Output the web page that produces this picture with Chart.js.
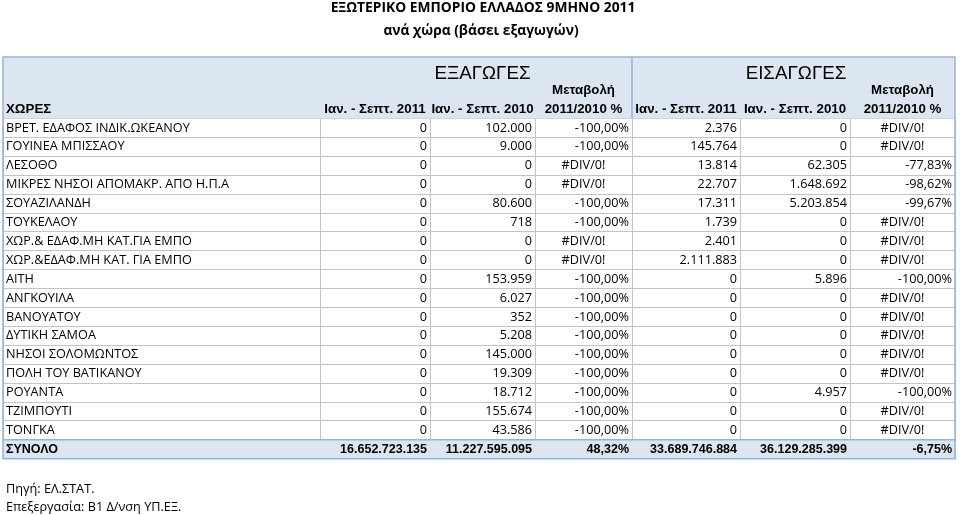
<!DOCTYPE html>
<html>
<head>
<meta charset="utf-8">
<script src="https://cdn.jsdelivr.net/npm/chart.js@4.4.1/dist/chart.umd.min.js"></script>
<style>
  html, body { margin: 0; padding: 0; background: #fff; }
</style>
</head>
<body>
<canvas id="tradeTable" width="960" height="515"></canvas>
<script>
// Table data
const countries = [
    'ΒΡΕΤ. ΕΔΑΦΟΣ ΙΝΔΙΚ.ΩΚΕΑΝΟΥ', 'ΓΟΥΙΝΕΑ ΜΠΙΣΣΑΟΥ', 'ΛΕΣΟΘΟ', 'ΜΙΚΡΕΣ ΝΗΣΟΙ ΑΠΟΜΑΚΡ. ΑΠΟ Η.Π.Α',
    'ΣΟΥΑΖΙΛΑΝΔΗ', 'ΤΟΥΚΕΛΑΟΥ', 'ΧΩΡ.& ΕΔΑΦ.ΜΗ ΚΑΤ.ΓΙΑ ΕΜΠΟ', 'ΧΩΡ.&ΕΔΑΦ.ΜΗ ΚΑΤ. ΓΙΑ ΕΜΠΟ',
    'ΑΙΤΗ', 'ΑΝΓΚΟΥΙΛΑ', 'ΒΑΝΟΥΑΤΟΥ', 'ΔΥΤΙΚΗ ΣΑΜΟΑ', 'ΝΗΣΟΙ ΣΟΛΟΜΩΝΤΟΣ',
    'ΠΟΛΗ ΤΟΥ ΒΑΤΙΚΑΝΟΥ', 'ΡΟΥΑΝΤΑ', 'ΤΖΙΜΠΟΥΤΙ', 'ΤΟΝΓΚΑ'
];
const exports2011 = [0, 0, 0, 0, 0, 0, 0, 0, 0, 0, 0, 0, 0, 0, 0, 0, 0];
const exports2010 = [102000, 9000, 0, 0, 80600, 718, 0, 0, 153959, 6027, 352, 5208, 145000, 19309, 18712, 155674, 43586];
const exportsChange = [-100, -100, null, null, -100, -100, null, null, -100, -100, -100, -100, -100, -100, -100, -100, -100];
const imports2011 = [2376, 145764, 13814, 22707, 17311, 1739, 2401, 2111883, 0, 0, 0, 0, 0, 0, 0, 0, 0];
const imports2010 = [0, 0, 62305, 1648692, 5203854, 0, 0, 0, 5896, 0, 0, 0, 0, 0, 4957, 0, 0];
const importsChange = [null, null, -77.83, -98.62, -99.67, null, null, null, -100, null, null, null, null, null, -100, null, null];

const totalLabel = 'ΣΥΝΟΛΟ';
const totals = [16652723135, 11227595095, 48.32, 33689746884, 36129285399, -6.75];

const titleLines = ['ΕΞΩΤΕΡΙΚΟ ΕΜΠΟΡΙΟ ΕΛΛΑΔΟΣ 9ΜΗΝΟ 2011', 'ανά χώρα (βάσει εξαγωγών)'];
const groupHeaders = ['ΕΞΑΓΩΓΕΣ', 'ΕΙΣΑΓΩΓΕΣ'];
const columnHeaders = ['ΧΩΡΕΣ', 'Ιαν. - Σεπτ. 2011', 'Ιαν. - Σεπτ. 2010', '2011/2010 %', 'Ιαν. - Σεπτ. 2011', 'Ιαν. - Σεπτ. 2010', '2011/2010 %'];
const sourceLines = ['Πηγή: ΕΛ.ΣΤΑΤ.', 'Επεξεργασία: Β1 Δ/νση ΥΠ.ΕΞ.'];

// column widths in table units (x scale is linear over their sum)
const colWidths = [317, 110, 105, 97, 108, 110, 105];
const colEdges = colWidths.reduce((acc, w) => { acc.push(acc[acc.length - 1] + w); return acc; }, [0]);

const rowLabels = countries.concat([totalLabel]);

const bodyFont = '12.7px "Open Sans"';
const headFont = 'bold 13.3px "Liberation Sans"';
const totalFont = 'bold 12.5px "Liberation Sans"';
const blue = '#95b3d7';
const headFill = '#dce6f1';

// Greek number formatting: 1.234.567 and -100,00%
function fmtNum(v) {
    return String(Math.round(v)).replace(/\B(?=(\d{3})+(?!\d))/g, '.');
}
function fmtPct(v) {
    return v.toFixed(2).replace('.', ',') + '%';
}

const tablePlugin = {
    id: 'tableText',
    afterDraw(chart) {
        const { ctx, chartArea, scales: { x, y } } = chart;
        const edge = k => x.getPixelForValue(colEdges[k]);
        const rowH = y.getPixelForValue(1) - y.getPixelForValue(0);
        const headTop = chartArea.top - 61.5;
        const pad = 3;

        ctx.save();

        // header block
        ctx.fillStyle = headFill;
        ctx.fillRect(edge(0), headTop, edge(7) - edge(0), chartArea.top - headTop);

        ctx.fillStyle = '#000';
        ctx.textBaseline = 'middle';
        const hLine = chartArea.top - 9.5;
        ctx.font = headFont;
        ctx.textAlign = 'left';
        ctx.fillText(columnHeaders[0], edge(0) + pad, hLine);
        ctx.textAlign = 'center';
        for (let c = 1; c < 7; c++) {
            ctx.fillText(columnHeaders[c], (edge(c) + edge(c + 1)) / 2, hLine);
        }
        ctx.fillText('Μεταβολή', (edge(3) + edge(4)) / 2, hLine - 18.5);
        ctx.fillText('Μεταβολή', (edge(6) + edge(7)) / 2, hLine - 18.5);
        ctx.font = '18.8px "Liberation Sans"';
        ctx.fillText(groupHeaders[0], (edge(2) + edge(3)) / 2, hLine - 35.5);
        ctx.fillText(groupHeaders[1], (edge(5) + edge(6)) / 2 + 1, hLine - 35.5);

        // header divider between exports and imports
        ctx.strokeStyle = blue;
        ctx.lineWidth = 1.5;
        ctx.beginPath();
        ctx.moveTo(edge(4), headTop);
        ctx.lineTo(edge(4), chartArea.top);
        ctx.stroke();

        // body rows
        ctx.font = bodyFont;
        countries.forEach((name, i) => {
            const cy = y.getPixelForValue(i);
            const cells = [exports2011[i], exports2010[i], exportsChange[i], imports2011[i], imports2010[i], importsChange[i]];
            ctx.textAlign = 'left';
            ctx.fillText(name, edge(0) + pad, cy);
            cells.forEach((v, k) => {
                const c = k + 1;
                const isPct = (k === 2 || k === 5);
                if (v === null) {
                    ctx.textAlign = 'center';
                    ctx.fillText('#DIV/0!', (edge(c) + edge(c + 1)) / 2, cy);
                } else {
                    ctx.textAlign = 'right';
                    ctx.fillText(isPct ? fmtPct(v) : fmtNum(v), edge(c + 1) - pad, cy);
                }
            });
        });

        // total row
        const ti = countries.length;
        const ty = y.getPixelForValue(ti);
        ctx.fillStyle = headFill;
        ctx.fillRect(edge(0), ty - rowH / 2, edge(7) - edge(0), rowH);
        ctx.strokeStyle = blue;
        ctx.beginPath();
        ctx.moveTo(edge(0), ty - rowH / 2);
        ctx.lineTo(edge(7), ty - rowH / 2);
        ctx.stroke();
        ctx.fillStyle = '#000';
        ctx.font = totalFont;
        ctx.textAlign = 'left';
        ctx.fillText(totalLabel, edge(0) + pad, ty);
        ctx.textAlign = 'right';
        totals.forEach((v, k) => {
            const isPct = (k === 2 || k === 5);
            ctx.fillText(isPct ? fmtPct(v) : fmtNum(v), edge(k + 2) - pad, ty);
        });

        // outer border
        ctx.strokeStyle = blue;
        ctx.lineWidth = 1.5;
        ctx.strokeRect(edge(0), headTop, edge(7) - edge(0), chartArea.bottom - headTop);

        // title
        ctx.font = 'bold 13.8px "Open Sans"';
        ctx.textAlign = 'center';
        ctx.fillText(titleLines[0], 483, 8);
        ctx.fillText(titleLines[1], 481, 31);

        // source notes
        ctx.font = bodyFont;
        ctx.textAlign = 'left';
        ctx.fillText(sourceLines[0], 6, 489);
        ctx.fillText(sourceLines[1], 6, 507);

        ctx.restore();
    }
};

const canvas = document.getElementById('tradeTable');
new Chart(canvas.getContext('2d'), {
    type: 'bar',
    data: {
        labels: rowLabels,
        datasets: [{ data: [] }]
    },
    options: {
        indexAxis: 'y',
        responsive: false,
        animation: false,
        devicePixelRatio: 1,
        layout: { padding: { top: 118.5, bottom: 56.3, left: 3, right: 5 } },
        plugins: {
            legend: { display: false },
            tooltip: { enabled: false }
        },
        scales: {
            x: {
                type: 'linear',
                min: 0,
                max: colEdges[colEdges.length - 1],
                afterBuildTicks: axis => { axis.ticks = colEdges.map(v => ({ value: v })); },
                ticks: { display: false },
                grid: { color: '#c4c4c4', drawTicks: false },
                border: { display: false }
            },
            y: {
                ticks: { display: false },
                grid: { color: '#c4c4c4', drawTicks: false },
                border: { display: false }
            }
        }
    },
    plugins: [tablePlugin]
});
</script>
</body>
</html>
